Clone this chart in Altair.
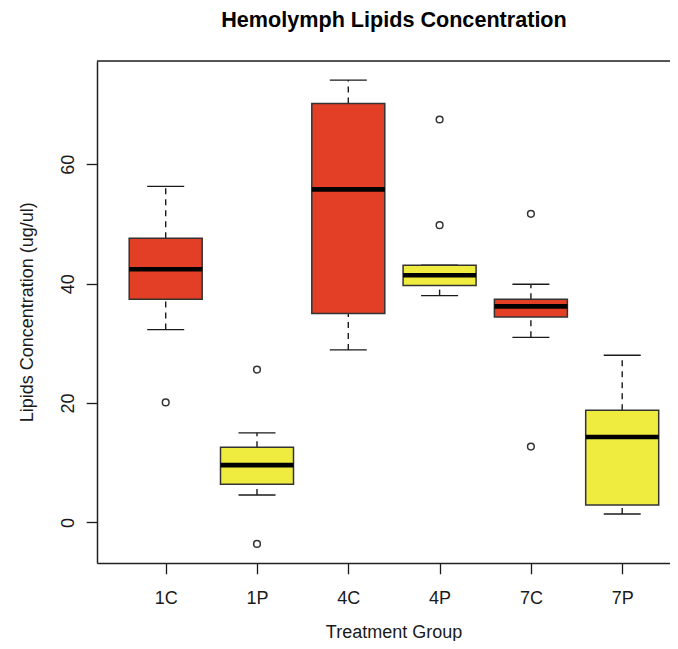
import altair as alt
import pandas as pd

# ---- data ----
groups = ["1C", "1P", "4C", "4P", "7C", "7P"]
treatment = ["C", "P", "C", "P", "C", "P"]
whisker_low = [32.3, 4.6, 28.9, 38.0, 31.0, 1.4]
q1 = [37.4, 6.4, 35.0, 39.7, 34.4, 2.9]
median = [42.4, 9.6, 55.8, 41.4, 36.2, 14.3]
q3 = [47.6, 12.6, 70.2, 43.1, 37.4, 18.8]
whisker_high = [56.3, 15.0, 74.1, 43.1, 39.9, 28.0]

outlier_groups = ["1C", "1P", "1P", "4P", "4P", "7C", "7C"]
outlier_values = [20.1, 25.6, -3.6, 67.5, 49.8, 51.7, 12.7]

y_ticks = [0, 20, 40, 60]
y_domain = [-6.8, 77.3]

box_df = pd.DataFrame({
    "group": groups,
    "treatment": treatment,
    "lower": whisker_low,
    "q1": q1,
    "median": median,
    "q3": q3,
    "upper": whisker_high,
})
out_df = pd.DataFrame({"group": outlier_groups, "value": outlier_values})

FONT = "Liberation Sans"
INK = "#1a1a1a"
FRAME = "#222222"

x_axis = alt.Axis(
    title="Treatment Group",
    labelAngle=0,
    labelFontSize=18,
    labelFont=FONT,
    labelColor=INK,
    labelPadding=16,
    tickSize=10.8,
    tickWidth=1.3,
    tickColor=INK,
    domain=True,
    domainColor=FRAME,
    domainWidth=1.5,
    grid=False,
    titleFont=FONT,
    titleFontSize=18,
    titleFontWeight="normal",
    titleColor=INK,
    titleX=296.5,
    titleY=74.5,
    titleBaseline="alphabetic",
    titleAlign="center",
)
x_scale = alt.Scale(type="point", padding=0.638, align=0.5897)
x_enc = alt.X("group:N", sort=groups, scale=x_scale, axis=x_axis)

y_axis = alt.Axis(
    title="Lipids Concentration (ug/ul)",
    values=y_ticks,
    labelAngle=270,
    labelAlign="center",
    labelBaseline="alphabetic",
    labelFontSize=18,
    labelFont=FONT,
    labelColor=INK,
    labelPadding=12.7,
    tickSize=10.8,
    tickWidth=1.3,
    tickColor=INK,
    domain=True,
    domainColor=FRAME,
    domainWidth=1.5,
    grid=False,
    titleFont=FONT,
    titleFontSize=18,
    titleFontWeight="normal",
    titleColor=INK,
    titleAngle=270,
    titleX=-65,
    titleY=250.7,
    titleAlign="center",
    titleBaseline="alphabetic",
)
y_scale = alt.Scale(domain=y_domain, nice=False, zero=False)


def yq(field):
    return alt.Y(f"{field}:Q", scale=y_scale, axis=y_axis)


base = alt.Chart(box_df)

whisk_lo = base.mark_rule(strokeDash=[6, 5], strokeWidth=1.4, color=INK).encode(
    x=x_enc, y=yq("lower"), y2="q1:Q")
whisk_hi = base.mark_rule(strokeDash=[6, 5], strokeWidth=1.4, color=INK).encode(
    x=x_enc, y=yq("q3"), y2="upper:Q")
cap_lo = base.mark_tick(size=37, thickness=1.4, color=INK, opacity=1).encode(
    x=x_enc, y=yq("lower"))
cap_hi = base.mark_tick(size=37, thickness=1.4, color=INK, opacity=1).encode(
    x=x_enc, y=yq("upper"))
boxes = base.mark_bar(size=73, stroke="#333333", strokeWidth=1.5, opacity=1).encode(
    x=x_enc, y=yq("q1"), y2="q3:Q",
    color=alt.Color("treatment:N",
                    scale=alt.Scale(domain=["C", "P"], range=["#E33E26", "#F0EB3F"]),
                    legend=None))
medians = base.mark_tick(size=73, thickness=4.6, color="#000000", opacity=1).encode(
    x=x_enc, y=yq("median"))
outliers = alt.Chart(out_df).mark_point(
    shape="circle", size=45, filled=False, strokeWidth=1.5, color="#333333", opacity=1
).encode(x=x_enc, y=yq("value"))

# top edge of the plot frame (the right edge is cropped off in the reference)
frame_top = alt.Chart(pd.DataFrame({"t": [0]})).mark_rule(
    color=FRAME, strokeWidth=1.5
).encode(
    y=alt.datum(y_domain[1], scale=y_scale, axis=y_axis),
    x=alt.value(0),
    x2=alt.value("width"),
)

chart = alt.layer(
    whisk_lo, whisk_hi, cap_lo, cap_hi, boxes, medians, outliers, frame_top
).properties(
    width=573,
    height=502,
    autosize=alt.AutoSizeParams(type="none"),
    padding={"left": 89, "top": 53, "right": 0, "bottom": 78},
    title=alt.TitleParams(
        "Hemolymph Lipids Concentration",
        font=FONT,
        fontSize=21.6,
        fontWeight="bold",
        color="#000000",
        anchor="middle",
        dx=10.5,
        offset=12,
        baseline="alphabetic",
    ),
).configure_view(
    strokeOpacity=0
).configure(background="white")

chart.save("out.html", embed_options={"renderer": "svg", "actions": False})
